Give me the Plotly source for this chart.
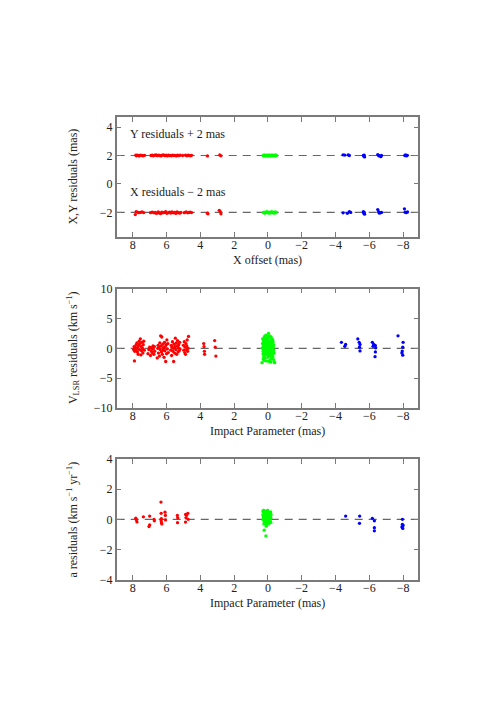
import plotly.graph_objects as go

# ---------------- Panel 1: position residuals ----------------
p1_red_yres_x = [7.82, 7.78, 7.75, 7.68, 7.62, 7.55, 7.45, 7.38, 7.3, 6.92, 6.85, 6.78, 6.7, 6.62, 6.55,
                 6.48, 6.4, 6.33, 6.25, 6.18, 6.1, 6.02, 5.95, 5.88, 5.8, 5.72, 5.65, 5.58, 5.5, 5.42,
                 5.35, 5.28, 5.2, 5.05, 4.88, 4.8, 4.72, 4.65, 4.58, 4.52, 3.58, 2.85, 2.78]
p1_red_yres_y = [2.02, 1.98, 2.03, 2.0, 1.97, 2.02, 2.0, 1.98, 2.01, 2.0, 2.03, 1.98, 2.02, 2.04, 1.99,
                 2.03, 2.0, 1.97, 2.02, 2.05, 1.99, 2.02, 1.97, 2.03, 2.0, 1.98, 2.02, 2.0, 2.01, 1.97,
                 2.03, 1.99, 2.02, 2.0, 2.02, 1.98, 2.03, 2.0, 1.98, 2.01, 1.97, 2.04, 1.98]
p1_red_xres_x = [7.85, 7.8, 7.72, 7.65, 7.55, 7.45, 7.35, 6.95, 6.85, 6.75, 6.68, 6.6, 6.5, 6.42, 6.35,
                 6.28, 6.2, 6.12, 6.05, 5.98, 5.9, 5.82, 5.75, 5.68, 5.6, 5.52, 5.45, 5.38, 5.3, 5.22,
                 5.15, 4.95, 4.85, 4.75, 4.68, 4.6, 4.52, 3.58, 3.55, 2.88, 2.82, 2.78]
p1_red_xres_y = [-2.15, -1.95, -1.98, -2.02, -2.0, -1.97, -2.01, -2.02, -1.98, -2.03, -2.0, -2.07, -1.97, -2.04, -2.08,
                 -1.98, -2.03, -2.0, -1.95, -2.06, -2.02, -1.98, -2.04, -1.96, -2.03, -2.0, -2.07, -1.97, -2.02, -2.05,
                 -1.99, -2.02, -1.97, -2.03, -2.0, -1.98, -2.01, -2.05, -2.1, -1.85, -1.95, -2.1]
p1_green_yres_x = [0.28, 0.24, 0.2, 0.16, 0.12, 0.08, 0.04, 0.0, -0.04, -0.08, -0.12, -0.16, -0.2, -0.24,
                   -0.28, -0.32, -0.36, -0.4, -0.44, -0.48, -0.5, 0.22, 0.1, -0.02, -0.14, -0.26, -0.38, -0.46]
p1_green_yres_y = [2.0, 1.98, 2.02, 1.97, 2.01, 2.03, 1.99, 2.0, 1.97, 2.02, 2.0, 1.98, 2.03, 2.0,
                   1.97, 2.01, 2.02, 1.98, 2.0, 2.02, 1.99, 2.03, 1.97, 2.03, 1.97, 2.03, 1.98, 2.02]
p1_green_xres_x = [0.27, 0.23, 0.19, 0.15, 0.11, 0.07, 0.03, -0.01, -0.05, -0.09, -0.13, -0.17, -0.21, -0.25,
                   -0.29, -0.33, -0.37, -0.41, -0.45, -0.49, 0.2, 0.05, -0.1, -0.22, -0.35, -0.47]
p1_green_xres_y = [-2.0, -2.02, -1.98, -2.03, -2.0, -1.97, -2.02, -2.0, -2.04, -1.98, -2.01, -2.03, -1.97, -2.0,
                   -2.02, -1.98, -2.03, -2.0, -1.97, -2.02, -2.04, -1.97, -2.03, -1.97, -2.04, -1.99]
p1_blue_yres_x = [-4.45, -4.55, -4.75, -4.82, -5.65, -5.68, -5.72, -5.7, -6.5, -6.55, -6.6, -6.68, -6.72,
                  -8.1, -8.15, -8.2, -8.25]
p1_blue_yres_y = [2.05, 2.03, 2.04, 2.0, 2.0, 1.95, 1.9, 2.03, 2.06, 2.0, 1.97, 1.92, 2.0,
                  2.0, 2.05, 1.97, 2.01]
p1_blue_xres_x = [-4.45, -4.7, -4.82, -4.9, -5.65, -5.68, -5.72, -5.7, -6.5, -6.55, -6.6, -6.68, -6.72,
                  -8.08, -8.12, -8.18, -8.26]
p1_blue_xres_y = [-2.03, -2.06, -1.95, -2.0, -1.95, -2.05, -2.12, -2.0, -1.8, -1.95, -2.05, -2.02, -2.0,
                  -1.75, -1.98, -2.02, -1.97]

# ---------------- Panel 2: VLSR residuals ----------------
p2_red_x = [7.95, 7.92, 7.9, 7.88, 7.85, 7.82, 7.8, 7.78, 7.75, 7.72, 7.7, 7.68, 7.65, 7.62, 7.6, 7.58,
            7.55, 7.52, 7.5, 7.48, 7.45, 7.42, 7.4, 7.38, 7.35, 7.32,
            7.1, 7.05, 7.0, 6.95, 6.9, 6.88, 6.85, 6.8, 6.78, 6.75, 6.72, 6.7,
            6.55, 6.52, 6.5, 6.48, 6.45, 6.42, 6.4, 6.38, 6.35, 6.32, 6.3, 6.28, 6.25, 6.22, 6.2, 6.18,
            6.15, 6.12, 6.1, 6.08, 6.05, 6.02, 6.0, 5.98, 5.95, 5.92, 5.9,
            5.75, 5.72, 5.7, 5.68, 5.65, 5.62, 5.6, 5.58, 5.55, 5.52, 5.5, 5.48, 5.45, 5.42, 5.4, 5.38,
            5.35, 5.32, 5.3, 5.28, 5.25, 5.22, 5.2,
            5.0, 4.98, 4.95, 4.92, 4.9, 4.88, 4.85, 4.82, 4.8, 4.78, 4.75, 4.72, 4.7,
            3.8, 3.78, 3.76, 3.75, 3.15, 3.12, 3.08]
p2_red_y = [-0.2, 0.3, -2.1, -0.5, 0.1, -0.3, 0.6, -0.1, 0.9, -0.6, 0.2, -1.0, 0.5, 1.2, -0.2, 0.8,
            1.6, -1.1, 0.3, -0.4, 1.0, 0.0, -0.8, 0.6, 1.2, -0.3,
            -0.9, -0.2, 0.2, -1.2, -0.4, 0.1, -0.7, 0.4, -0.1, -1.0, 0.3, -0.5,
            -1.6, 0.0, 0.5, -0.8, 0.2, -1.3, 0.9, -0.2, 2.1, 0.4, -0.6, 1.9, -1.0, 0.7, -0.3, 0.1,
            -1.5, 1.0, -0.4, 0.3, -2.2, 0.6, -0.9, 1.4, -0.1, 0.8, -0.7,
            -0.3, 0.5, -1.2, 0.2, 1.1, -0.5, 0.0, -2.2, 0.7, -0.8, 0.3, 1.7, -0.2, 0.9, -1.0, 0.4,
            1.3, -0.6, 0.1, 0.6, -0.4, 1.0, -0.1,
            0.5, -0.3, 1.1, -0.7, 0.2, -1.0, 0.8, -0.2, 0.4, 1.4, -0.5, 0.0, 2.0,
            0.8, 0.3, -0.5, -1.0, 1.3, 0.2, -1.3]
p2_green_x = [0.3, 0.28, 0.25, 0.22, 0.2, 0.18, 0.15, 0.12, 0.1, 0.08, 0.05, 0.02, 0.0, -0.02, -0.05, -0.08,
              -0.1, -0.12, -0.15, -0.18, -0.2, -0.22, -0.25, -0.28, -0.3, -0.32, -0.35, -0.38, 0.35, 0.32,
              0.27, 0.24, 0.21, 0.17, 0.14, 0.11, 0.07, 0.04, 0.01, -0.03, -0.06, -0.09, -0.11, -0.14,
              -0.17, -0.19, -0.23, -0.26, -0.29, -0.33, -0.36, 0.29, 0.26, 0.23, 0.19, 0.16, 0.13, 0.09,
              0.06, 0.03, -0.01, -0.04, -0.07, -0.1, -0.13, -0.16, -0.2, -0.24, -0.27, -0.31, -0.34, -0.4,
              0.31, 0.25, 0.2, 0.15, 0.1, 0.05, 0.0, -0.05, -0.1, -0.15, -0.2, -0.25, -0.3, 0.33, 0.28,
              0.18, 0.08, -0.02, -0.12, -0.22, -0.32, 0.12, -0.08, 0.22, -0.18]
p2_green_y = [0.2, -0.5, 1.0, -1.2, 0.6, -0.1, 1.5, -0.8, 0.3, 2.0, -0.4, 0.9, -1.5, 0.1, 1.8, -0.6,
              0.5, -1.0, 1.2, -0.2, 0.7, -1.7, 0.0, 1.4, -0.9, 0.4, -0.3, -2.3, -2.4, 0.8,
              1.3, -0.2, 0.0, -1.6, 0.4, 1.1, -0.9, 1.6, 0.2, 2.5, -0.1, 1.0, -2.0, 0.3,
              -1.3, 1.9, -0.5, 0.9, -1.4, 0.6, -0.8, -0.9, 0.5, 1.7, -0.6, 0.9, -0.3, -2.1,
              0.7, -1.1, 1.3, -0.7, 0.6, 2.1, -0.4, 0.1, -1.0, 1.6, -0.1, 1.1, -1.9, -2.4,
              1.6, -1.4, 2.0, -0.6, -0.1, 0.4, 1.0, -1.2, -0.3, 0.8, 1.4, -0.7, 0.2, 0.0, -1.8,
              1.2, -0.5, -0.2, 0.2, 0.5, -0.4, 2.2, -2.2, -2.0, -2.3]
p2_blue_x = [-4.35, -4.55, -4.6, -5.32, -5.4, -5.45, -5.42, -5.45, -6.18, -6.26, -6.22, -6.35, -6.38,
             -6.36, -6.34, -7.7, -8.0, -7.98, -7.95, -7.93, -7.98]
p2_blue_y = [1.0, 0.33, 0.65, 1.58, 1.0, 0.65, 0.2, -0.44, 1.0, 0.65, 0.33, 0.5, 0.1,
             -0.6, -1.4, 2.1, 1.0, 0.2, -0.45, -0.77, -1.15]

# ---------------- Panel 3: acceleration residuals ----------------
p3_red_x = [7.82, 7.78, 7.75, 7.37, 7.04, 7.0, 7.0, 6.74, 6.72, 6.33, 6.32, 6.32, 6.3, 6.31, 6.28,
            6.09, 6.07, 6.06, 5.36, 5.34, 5.35, 4.87, 4.82, 4.74, 4.85, 4.72, 4.88]
p3_red_y = [0.08, -0.04, -0.17, 0.17, -0.48, -0.37, 0.22, 0.0, -0.1, 1.15, 0.4, -0.1, -0.22, 0.05, -0.3,
            0.48, 0.26, -0.04, 0.26, 0.1, -0.22, 0.33, 0.26, 0.4, 0.1, 0.0, -0.18]
p3_green_x = [0.3, 0.27, 0.24, 0.21, 0.18, 0.15, 0.12, 0.09, 0.06, 0.03, 0.0, -0.03, -0.06, -0.09, -0.12,
              -0.15, -0.18, 0.28, 0.25, 0.22, 0.19, 0.16, 0.13, 0.1, 0.07, 0.04, 0.01, -0.02, -0.05,
              -0.08, -0.11, -0.14, -0.17, 0.29, 0.23, 0.17, 0.11, 0.05, -0.01, -0.07, -0.13, -0.19,
              0.26, 0.2, 0.14, 0.08, 0.02, -0.04, -0.1, -0.16, 0.24, 0.12, 0.0, -0.12, 0.18, 0.06,
              -0.06, 0.1, 0.28, 0.22, 0.12]
p3_green_y = [0.3, 0.1, 0.45, -0.1, 0.55, 0.2, 0.0, 0.4, -0.2, 0.25, 0.5, 0.05, 0.35, -0.15, 0.2,
              0.45, 0.1, -0.05, 0.6, 0.15, 0.35, -0.25, 0.5, 0.1, 0.3, -0.1, 0.45, 0.2, -0.3,
              0.4, 0.0, 0.3, -0.2, 0.5, 0.0, 0.1, 0.55, -0.15, 0.35, 0.15, -0.05, 0.3,
              0.2, -0.2, 0.4, 0.05, 0.6, -0.1, 0.25, 0.5, -0.3, -0.33, 0.15, 0.45, 0.25, -0.05,
              0.4, -0.45, 0.58, -0.72, -1.1]
p3_blue_x = [-4.6, -5.43, -5.42, -6.18, -6.3, -6.3, -6.3, -7.96, -7.96, -7.93, -7.98, -8.0]
p3_blue_y = [0.22, 0.22, -0.26, 0.07, -0.1, -0.55, -0.76, 0.0, -0.33, -0.5, -0.6, -0.4]

x_ticks = [8, 6, 4, 2, 0, -2, -4, -6, -8]
x_range = [8.95, -8.9]

W, H = 491, 701
FONT = "Liberation Serif"
AXC = "#7a7a7a"
TXT = "#222222"
FS = 12

def px_x(p):
    return p / W

def px_y(p):
    return 1 - p / H

panels = [
    dict(top=112.3, bot=234.3, yr=[-3.7, 4.7], dt=2),
    dict(top=287.3, bot=409.3, yr=[-10, 10], dt=5),
    dict(top=461.3, bot=584.3, yr=[-4, 4], dt=2),
]
left, right = 116.7, 418.3

fig = go.Figure()

def add(xs, ys, color, i):
    fig.add_trace(go.Scatter(
        x=xs, y=ys, mode="markers",
        marker=dict(color=color, size=3.3, line=dict(width=0)),
        xaxis="x" if i == 1 else f"x{i}", yaxis="y" if i == 1 else f"y{i}",
        showlegend=False, hoverinfo="skip"))

add(p1_red_yres_x, p1_red_yres_y, "#ff0000", 1)
add(p1_red_xres_x, p1_red_xres_y, "#ff0000", 1)
add(p1_green_yres_x, p1_green_yres_y, "#00ff00", 1)
add(p1_green_xres_x, p1_green_xres_y, "#00ff00", 1)
add(p1_blue_yres_x, p1_blue_yres_y, "#0000ff", 1)
add(p1_blue_xres_x, p1_blue_xres_y, "#0000ff", 1)
add(p2_red_x, p2_red_y, "#ff0000", 2)
add(p2_green_x, p2_green_y, "#00ff00", 2)
add(p2_blue_x, p2_blue_y, "#0000ff", 2)
add(p3_red_x, p3_red_y, "#ff0000", 3)
add(p3_green_x, p3_green_y, "#00ff00", 3)
add(p3_blue_x, p3_blue_y, "#0000ff", 3)

layout = dict(
    width=W, height=H, margin=dict(l=0, r=0, t=0, b=0),
    paper_bgcolor="white", plot_bgcolor="white",
    font=dict(family=FONT, size=FS, color=TXT),
    showlegend=False,
)
for i, p in enumerate(panels, start=1):
    sx = "" if i == 1 else str(i)
    common = dict(showline=True, linecolor=AXC, linewidth=1.5, mirror="allticks",
                  ticks="inside", ticklen=5, tickcolor=AXC, tickwidth=1,
                  showgrid=False, zeroline=False,
                  tickfont=dict(family=FONT, size=FS, color=TXT))
    layout[f"xaxis{sx}"] = dict(domain=[px_x(left), px_x(right)], range=x_range,
                                tickmode="array", tickvals=x_ticks, ticklabelstandoff=-4,
                                anchor=f"y{sx}", **common)
    layout[f"yaxis{sx}"] = dict(domain=[px_y(p["bot"]), px_y(p["top"])], range=p["yr"],
                                dtick=p["dt"], tick0=0, anchor=f"x{sx}", **common)
fig.update_layout(**layout)

# dashed reference lines
dash_lines = [(1, 2), (1, -2), (2, 0), (3, 0)]
for i, yv in dash_lines:
    sx = "" if i == 1 else str(i)
    fig.add_shape(type="line", xref=f"x{sx} domain", yref=f"y{sx}", x0=0, x1=1, y0=yv, y1=yv,
                  line=dict(color="#666666", width=1.2, dash="8px,6px"), layer="below")

ann = []
# in-panel labels
ann.append(dict(x=8.3, y=3.5, xref="x", yref="y", text="Y residuals + 2 mas", showarrow=False,
                xanchor="left", yanchor="middle", font=dict(size=FS)))
ann.append(dict(x=8.3, y=-0.55, xref="x", yref="y", text="X residuals − 2 mas", showarrow=False,
                xanchor="left", yanchor="middle", font=dict(size=FS)))
# axis titles
xt = [("X offset (mas)", 258), ("Impact Parameter (mas)", 433), ("Impact Parameter (mas)", 608.5)]
for t, yp in xt:
    ann.append(dict(x=px_x((left + right) / 2), y=px_y(yp), xref="paper", yref="paper", text=t,
                    showarrow=False, xanchor="center", yanchor="middle", font=dict(size=FS)))
yt = [("X,Y residuals (mas)", 173), ("V<sub>LSR</sub> residuals (km s<sup>−1</sup>)", 348),
      ("a residuals (km s<sup>−1</sup> yr<sup>−1</sup>)", 523)]
for t, yp in yt:
    ann.append(dict(x=px_x(73), y=px_y(yp), xref="paper", yref="paper", text=t, textangle=-90,
                    showarrow=False, xanchor="center", yanchor="middle", font=dict(size=FS)))
fig.update_layout(annotations=ann)

fig.write_html("out.html", config={"displayModeBar": False},
               post_script="document.body.style.margin='0';")
